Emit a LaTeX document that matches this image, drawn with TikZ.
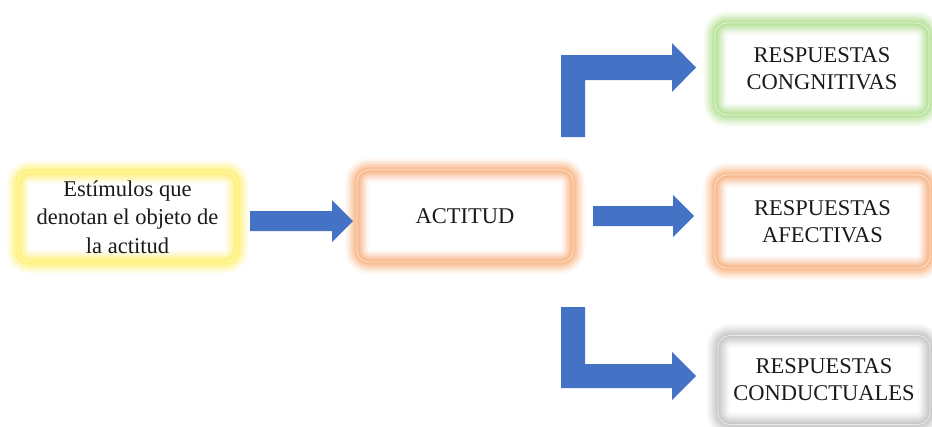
\documentclass[tikz,border=0pt]{standalone}
\usepackage{fontspec}
\setmainfont{Liberation Serif}
\definecolor{arrowblue}{HTML}{4472C4}
\definecolor{glowyellow}{HTML}{FFE600}
\definecolor{gloworange}{HTML}{F47C26}
\definecolor{glowgreen}{HTML}{7CCB44}
\definecolor{glowgray}{HTML}{999999}
\definecolor{inktext}{HTML}{1A1A1A}
\tikzset{
  glowbox/.style={
    rectangle, rounded corners=12pt, inner sep=0pt, align=center,
    text=inktext, font=\fontsize{22.5}{27}\selectfont,
    preaction={fill=white},
    preaction={draw=#1, line width=24pt, opacity=0.04},
    preaction={draw=#1, line width=21pt, opacity=0.06},
    preaction={draw=#1, line width=18pt, opacity=0.07},
    preaction={draw=#1, line width=15pt, opacity=0.08},
    preaction={draw=#1, line width=12pt, opacity=0.10},
    preaction={draw=#1, line width=9pt, opacity=0.11},
    preaction={draw=#1, line width=6pt, opacity=0.12},
    preaction={draw=#1, line width=3pt, opacity=0.12},
    draw=white!80!#1, line width=0.8pt
  },
  blockarrow/.style={fill=arrowblue, draw=none}
}
\begin{document}
\begin{tikzpicture}[x=1pt,y=-1pt]
\useasboundingbox (0,0) rectangle (932,426);

% boxes
\node[glowbox=glowyellow, minimum width=219pt, minimum height=90pt,
      font=\fontsize{22.5}{28.5}\selectfont] (stim) at (127.5,217)
  {Estímulos que\\denotan el objeto de\\la actitud};
\node[glowbox=gloworange, minimum width=216pt, minimum height=92pt] (act) at (465,216) {ACTITUD};
\node[glowbox=glowgreen, minimum width=214pt, minimum height=92pt] (cog) at (822,69) {RESPUESTAS\\CONGNITIVAS};
\node[glowbox=gloworange, minimum width=215pt, minimum height=93pt] (afe) at (822.5,221.5) {RESPUESTAS\\AFECTIVAS};
\node[glowbox=glowgray, minimum width=212pt, minimum height=89pt] (con) at (824,380) {RESPUESTAS\\CONDUCTUALES};

% straight block arrows
\fill[blockarrow] (250,211) -- (332,211) -- (332,200) -- (353,221) -- (332,242) -- (332,231) -- (250,231) -- cycle;
\fill[blockarrow] (593,206) -- (673,206) -- (673,195) -- (694,216) -- (673,237) -- (673,226) -- (593,226) -- cycle;

% bent block arrows
\fill[blockarrow] (561,137) -- (561,55) -- (672,55) -- (672,43) -- (696,67.5) -- (672,92) -- (672,80) -- (585,80) -- (585,137) -- cycle;
\fill[blockarrow] (561,307) -- (585,307) -- (585,364) -- (672,364) -- (672,352) -- (696,376) -- (672,400) -- (672,388) -- (561,388) -- cycle;
\end{tikzpicture}
\end{document}
